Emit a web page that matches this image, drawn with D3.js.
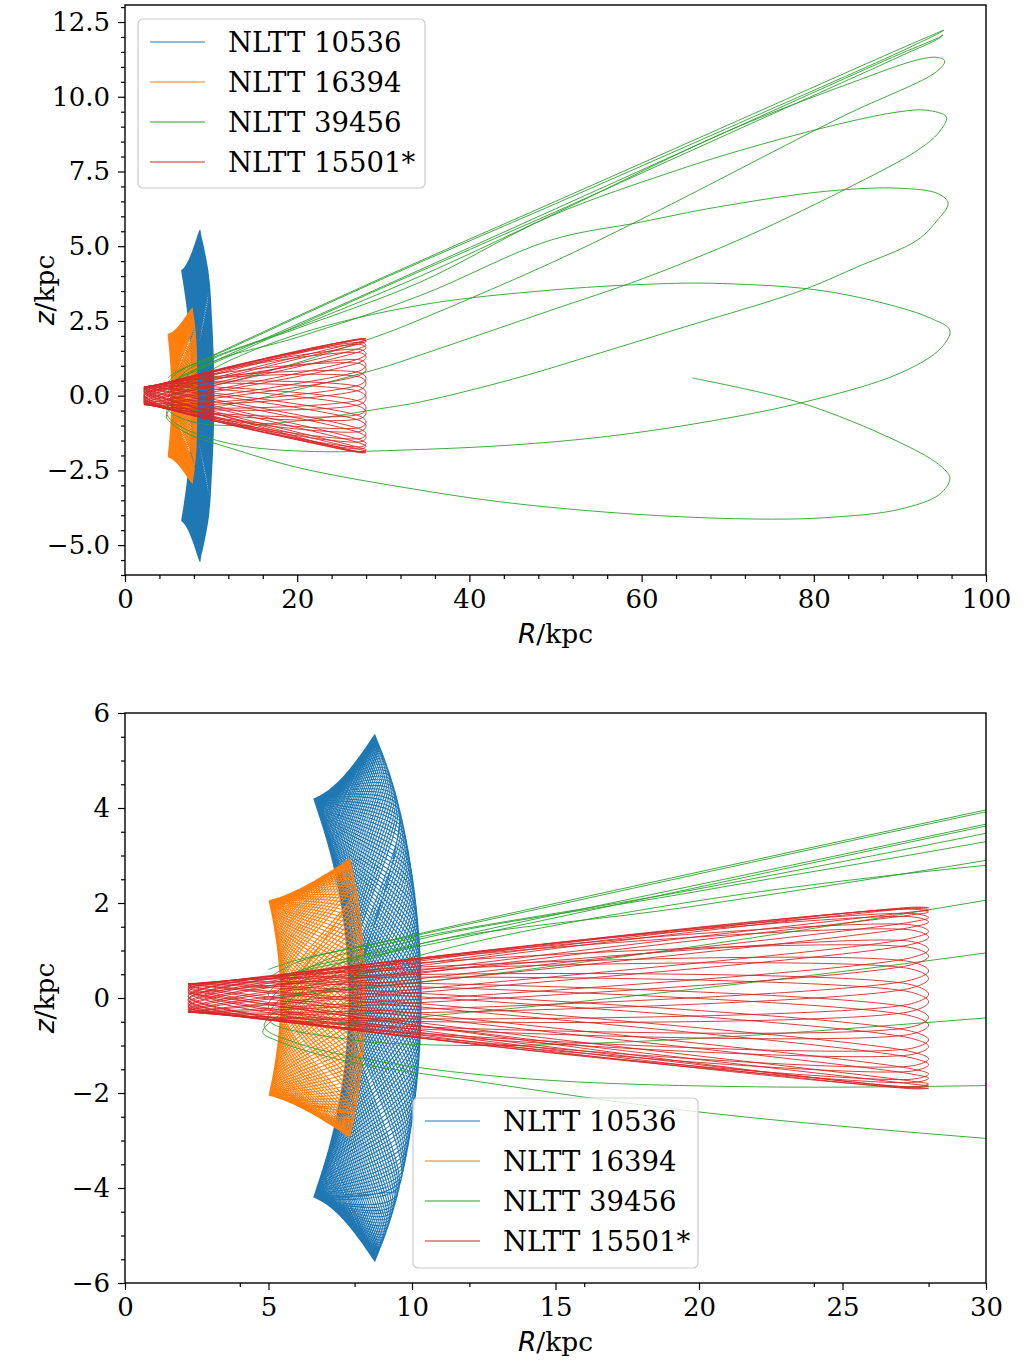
<!DOCTYPE html>
<html>
<head>
<meta charset="utf-8">
<script src="https://cdn.jsdelivr.net/npm/d3@7"></script>
<style>
body { margin: 0; background: #fff; }
text { font-family: "DejaVu Serif", serif; fill: #000; }
.tick text { font-family: "DejaVu Serif", serif !important; font-size: 26px !important; fill: #000; }
.mathit { font-family: "DejaVu Sans", sans-serif !important; font-style: italic; }
.upright { font-family: "DejaVu Serif", serif !important; }
</style>
</head>
<body>
<svg id="fig" width="1026" height="1360"></svg>
<script>

var names = ["NLTT 10536", "NLTT 16394", "NLTT 39456", "NLTT 15501*"];
var colors = ["#1f77b4", "#ff7f0e", "#2ca02c", "#d62728"];
var widths = [1.05, 1.05, 0.9, 0.9];

// NLTT 10536: radial turning points, alternating inner / outer radius, latitude in degrees
var blueRadii = [7.8, 10.32];
var blueTheta = [
  0.43, 23.87, 32.43, 20.78, -3.82, -26.04, -32.03, -18.06,
  7.17, 27.93, 31.28, 15.13, -10.45, -29.51, -30.19, -12.04,
  13.61, 30.78, 28.76, 8.82, -16.62, -31.70, -27.02, -5.50,
  19.45, 32.27, 24.99, 2.13, -22.06, -32.50, -22.68, 1.28,
  24.43, 32.36, 20.12, -4.66, -26.54, -31.88, -17.34, 8.00,
  28.36, 31.04, 14.37, -11.25, -29.86, -29.86, -11.25, 14.37,
  31.04, 28.36, 8.00, -17.34, -31.88, -26.54, -4.66, 20.12,
  32.36, 24.43, 1.28, -22.68, -32.50, -22.06, 2.13, 24.99,
  32.27, 19.45, -5.50, -27.02, -31.70, -16.62, 8.82, 28.76,
  30.78, 13.61, -12.04, -30.19, -29.51, -10.45, 15.13, 31.28,
  27.93, 7.17, -18.06, -32.03, -26.04, -3.82, 20.78, 32.43,
  23.87, 0.43, -23.28, -32.48, -21.43, 2.97, 25.52, 32.16,
  18.76, -6.34, -27.49, -31.50, -15.88, 9.64, 29.15, 30.49,
  12.83, -12.83, -30.49, -29.15, -9.64, 15.88, 31.50, 27.49,
  6.34, -18.76, -32.16, -25.52, -2.97, 21.43, 32.48, 23.28,
  -0.43, -23.87, -32.43, -20.78, 3.82, 26.04, 32.03, 18.06,
  -7.17, -27.93, -31.28, -15.13, 10.45, 29.51, 30.19, 12.04,
  -13.61, -30.78, -28.76, -8.82, 16.62, 31.70, 27.02, 5.50,
  -19.45, -32.27, -24.99, -2.13, 22.06, 32.50, 22.68, -1.28,
  -24.43, -32.36, -20.12, 4.66, 26.54, 31.88, 17.34, -8.00,
  -28.36, -31.04, -14.37, 11.25, 29.86, 29.86, 11.25, -14.37,
  -31.04, -28.36, -8.00, 17.34, 31.88, 26.54, 4.66, -20.12,
  -32.36, -24.43, -1.28, 22.68, 32.50, 22.06, -2.13, -24.99,
  -32.27, -19.45, 5.50, 27.02, 31.70, 16.62, -8.82, -28.76,
  -30.78, -13.61, 12.04, 30.19, 29.51, 10.45, -15.13, -31.28,
  -27.93, -7.17, 18.06, 32.03, 26.04, 3.82, -20.78, -32.43,
  -23.87, -0.43, 23.28, 32.48, 21.43, -2.97, -25.52, -32.16,
  -18.76, 6.34, 27.49, 31.50, 15.88, -9.64, -29.15, -30.49,
  -12.83, 12.83, 30.49, 29.15, 9.64, -15.88, -31.50, -27.49,
  -6.34, 18.76, 32.16, 25.52, 2.97, -21.43, -32.48, -23.28];

// NLTT 16394
var orangeRadii = [5.42, 8.36];
var orangeTheta = [
  0, 16.83, 20.81, 5.10, -14.51, -20.39, -10.69, 9.12, 21.96, 14.03,
  -4.62, -18.90, -18.74, -0.86, 17.68, 19.50, 6.42, -12.73, -22.16, -10.62,
  9.03, 20.14, 15.86, -3.42, -20.09, -17.75, -1.86, 15.80, 21.38, 6.74,
  -13.05, -20.50, -12.29, 7.55, 21.61, 15.23, -2.78, -18.17, -19.67, -2.57,
  16.50, 19.96, 8.17, -11.34, -22.20, -12.05, 7.30, 19.74, 17.11, -1.72,
  -19.23, -18.55, -3.70, 14.65, 21.81, 8.34, -11.50, -20.46, -13.79, 5.93,
  21.11, 16.33, -0.93, -17.31, -20.47, -4.26, 15.20, 20.28, 9.87, -9.88,
  -22.08, -13.40, 5.52, 19.21, 18.23, 0, -18.23, -19.21, -5.52, 13.40,
  22.08, 9.88, -9.87, -20.28, -15.20, 4.26, 20.47, 17.31, 0.93, -16.33,
  -21.11, -5.93, 13.79, 20.46, 11.50, -8.34, -21.81, -14.65, 3.70, 18.55,
  19.23, 1.72, -17.11, -19.74, -7.30, 12.05, 22.20, 11.34, -8.17, -19.96,
  -16.50, 2.57, 19.67, 18.17, 2.78, -15.23, -21.61, -7.55, 12.29, 20.50,
  13.05, -6.74, -21.38, -15.80, 1.86, 17.75, 20.09, 3.42, -15.86, -20.14,
  -9.03, 10.62, 22.16, 12.73, -6.42, -19.50, -17.68, 0.86, 18.74, 18.90,
  4.62, -14.03, -21.96, -9.12, 10.69, 20.39, 14.51, -5.10, -20.81, -16.83];

// NLTT 15501*: pericentre heights, and heights going into / at / out of each apocentre
var redPeriR = 2.2, redApoR = 28.0, redNearApoR = 27.4;
var redPeriZ = [0.10, -0.30, 0.05, 0.27, -0.19, -0.17, 0.28, 0.03, -0.30, 0.13,
  0.23, -0.25, -0.10, 0.30, -0.05, -0.27, 0.19, 0.17, -0.28, -0.03,
  0.30, -0.13, -0.23, 0.25, 0.10];
var redApoZ = [1.02, 1.28, -1.69, -0.41, 1.90, -0.57, -1.60, 1.40, 0.88, -1.85,
  0.08, 1.81, -1.02, -1.28, 1.69, 0.41, -1.90, 0.57, 1.60, -1.40,
  -0.88, 1.85, -0.08, -1.81];
var redApoInZ = [1.19, 1.13, -1.78, -0.21, 1.89, -0.76, -1.49, 1.54, 0.70, -1.89,
  0.28, 1.75, -1.19, -1.13, 1.78, 0.21, -1.89, 0.76, 1.49, -1.54,
  -0.70, 1.89, -0.28, -1.75];
var redApoOutZ = [0.85, 1.43, -1.60, -0.61, 1.91, -0.38, -1.71, 1.26, 1.06, -1.81,
  -0.12, 1.87, -0.85, -1.43, 1.60, 0.61, -1.91, 0.38, 1.71, -1.26,
  -1.06, 1.81, 0.12, -1.87];

// NLTT 39456: track points in order
var greenR = [65.9, 78.6, 89.5, 94.5, 95.8, 94.6, 90.0, 82.0, 74.1, 60.0, 45.0, 34.3, 20.3, 12.2, 7.5, 5.3, 4.8,
  5.4, 7.0, 10.0, 20.0, 34.3, 49.4, 60.0, 68.0, 80.0, 88.0, 93.5, 95.8,
  94.8, 90.0, 78.4, 66.0, 55.2, 45.0, 34.3, 22.0, 14.0, 9.0, 6.0, 4.85,
  5.5, 7.0, 10.0, 20.0, 34.3, 49.4, 59.8, 68.8, 81.5, 90.0, 94.5, 95.6,
  94.3, 92.0, 85.0, 79.6, 75.3, 65.0, 55.2, 45.0, 34.3, 30.0, 20.0, 12.0, 7.5, 5.0,
  5.6, 7.0, 10.0, 20.0, 34.3, 49.4, 64.1, 72.6, 83.4, 90.0, 93.1, 95.4,
  94.5, 92.0, 85.0, 72.0, 60.0, 49.4, 34.3, 30.0, 20.0, 12.0, 7.0, 5.0,
  5.6, 7.0, 10.0, 20.0, 34.3, 50.0, 70.0, 84.2, 92.0, 94.3, 95.2,
  94.3, 83.4, 61.0, 49.4, 34.3, 30.0, 20.0, 12.0, 7.0, 5.0,
  5.8, 10.0, 30.0, 50.0, 70.0, 90.0, 94.5, 95.0,
  94.5, 90.0, 70.0, 50.0, 30.0, 10.0, 6.0, 5.0,
  6.0, 10.0, 30.0, 50.0, 70.0, 90.0, 94.6, 95.1,
  94.6, 90.0, 70.0, 50.0, 30.0, 10.0, 6.0, 5.0];
var greenZ = [0.59, -0.25, -1.5, -2.3, -2.76, -3.3, -3.8, -4.07, -4.13, -3.98, -3.6, -3.16, -2.42, -1.75, -1.3, -0.9, -0.72,
  -0.35, 0.15, 0.85, 2.05, 3.03, 3.53, 3.72, 3.76, 3.55, 3.1, 2.6, 2.19,
  1.6, 0.75, -0.25, -0.95, -1.39, -1.65, -1.8, -1.87, -1.7, -1.35, -0.95, -0.6,
  -0.15, 0.4, 1.1, 1.95, 3.35, 5.2, 5.8, 6.31, 6.84, 6.94, 6.75, 6.44,
  5.85, 5.2, 4.3, 3.63, 3.2, 2.3, 1.43, 0.55, -0.21, -0.42, -0.85, -1.0, -0.85, -0.45,
  0.1, 0.6, 1.2, 2.25, 3.8, 6.0, 7.54, 8.3, 9.12, 9.5, 9.55, 9.32,
  8.8, 8.2, 7.1, 5.3, 3.9, 2.85, 1.36, 0.95, 0.2, -0.3, -0.5, -0.2,
  0.3, 0.8, 1.25, 2.3, 4.0, 6.1, 8.85, 10.45, 11.23, 11.32, 11.2,
  10.85, 9.35, 6.05, 4.43, 2.55, 2.06, 1.1, 0.45, 0.15, 0.05,
  0.5, 1.1, 3.66, 6.25, 8.85, 11.43, 11.98, 12.07,
  11.95, 11.35, 8.75, 6.15, 3.62, 1.05, 0.55, 0.4,
  0.75, 1.32, 3.96, 6.5, 9.05, 11.6, 12.17, 12.23,
  12.14, 11.5, 8.95, 6.42, 3.92, 1.3, 0.8, 0.6];

// ---- build tracks ----
function boxTrack(radii, theta) {
  return theta.map(function(t, i) {
    var p = d3.pointRadial((90 - t) * Math.PI / 180, radii[i % 2]);
    return [p[0], -p[1]];
  });
}
var redTrack = [];
redPeriZ.forEach(function(z, i) {
  redTrack.push([redPeriR, z]);
  if (i < redApoZ.length) {
    redTrack.push([redNearApoR, redApoInZ[i]]);
    redTrack.push([redApoR, redApoZ[i]]);
    redTrack.push([redNearApoR, redApoOutZ[i]]);
  }
});
var greenTrack = greenR.map(function(r, i) { return [r, greenZ[i]]; });

var tracks = [
  {c: 0, pts: boxTrack(blueRadii, blueTheta)},
  {c: 1, pts: boxTrack(orangeRadii, orangeTheta)},
  {c: 2, pts: greenTrack},
  {c: 3, pts: redTrack}
];

var svg = d3.select("#fig");

var panels = [
  {id: "a", left: 125, right: 986, top: 5, bottom: 575,
   xDomain: [0, 100], yDomain: [-6, 13.07],
   xTicks: d3.range(0, 101, 20), xMinor: d3.range(0, 101, 4).filter(function(d){ return d % 20; }),
   yTicks: d3.range(-2, 6).map(function(d){ return d * 2.5; }),
   yMinor: d3.range(-12, 27).map(function(d){ return d / 2; }).filter(function(d){ return Math.abs(d / 2.5 - Math.round(d / 2.5)) > 1e-6; }),
   yFmt: d3.format(".1f"),
   legend: {x: 138, y: 19, w: 287, h: 169}},
  {id: "b", left: 125, right: 986, top: 713, bottom: 1283,
   xDomain: [0, 30], yDomain: [-6, 6],
   xTicks: d3.range(0, 31, 5), xMinor: d3.range(0, 31, 4).filter(function(d){ return d % 5; }),
   yTicks: d3.range(-6, 7, 2),
   yMinor: d3.range(-12, 13).map(function(d){ return d / 2; }).filter(function(d){ return d % 2; }),
   yFmt: d3.format("d"),
   legend: {x: 413, y: 1098, w: 285, h: 170}}
];

panels.forEach(function(p) {
  var x = d3.scaleLinear().domain(p.xDomain).range([p.left, p.right]);
  var y = d3.scaleLinear().domain(p.yDomain).range([p.bottom, p.top]);
  var g = svg.append("g");

  g.append("clipPath").attr("id", "clip-" + p.id)
    .append("rect").attr("x", p.left).attr("y", p.top)
    .attr("width", p.right - p.left).attr("height", p.bottom - p.top);

  var line = d3.line()
    .x(function(d){ return x(d[0]); })
    .y(function(d){ return y(d[1]); })
    .curve(d3.curveCatmullRom.alpha(0.5));

  var plot = g.append("g").attr("clip-path", "url(#clip-" + p.id + ")");
  tracks.forEach(function(t) {
    plot.append("path")
      .attr("d", line(t.pts))
      .attr("fill", "none")
      .attr("stroke", colors[t.c])
      .attr("stroke-width", widths[t.c])
      .attr("stroke-linejoin", "round");
  });

  // axes
  var axes = g.append("g");
  axes.append("g").attr("transform", "translate(0," + p.bottom + ")")
    .call(d3.axisBottom(x).tickValues(p.xTicks).tickFormat(d3.format("d")).tickSize(7).tickPadding(8));
  axes.append("g").attr("transform", "translate(0," + p.bottom + ")")
    .call(d3.axisBottom(x).tickValues(p.xMinor).tickFormat("").tickSize(4));
  axes.append("g").attr("transform", "translate(" + p.left + ",0)")
    .call(d3.axisLeft(y).tickValues(p.yTicks).tickFormat(p.yFmt).tickSize(7).tickPadding(8));
  axes.append("g").attr("transform", "translate(" + p.left + ",0)")
    .call(d3.axisLeft(y).tickValues(p.yMinor).tickFormat("").tickSize(4));
  axes.selectAll("g").attr("font-family", null).attr("font-size", null);
  axes.selectAll(".domain").remove();
  axes.selectAll(".tick line").attr("stroke", "#000").attr("stroke-width", 1.2);

  g.append("rect")
    .attr("x", p.left).attr("y", p.top)
    .attr("width", p.right - p.left).attr("height", p.bottom - p.top)
    .attr("fill", "none").attr("stroke", "#000").attr("stroke-width", 1.4);

  // axis labels
  var xl = g.append("text")
    .attr("x", (p.left + p.right) / 2).attr("y", p.bottom + 68)
    .attr("text-anchor", "middle").style("font-size", "26.5px");
  xl.append("tspan").attr("class", "mathit").text("R");
  xl.append("tspan").attr("class", "upright").text("/kpc");
  var yl = g.append("text")
    .attr("transform", "translate(54," + ((p.top + p.bottom) / 2) + ") rotate(-90)")
    .attr("text-anchor", "middle").style("font-size", "26.5px");
  yl.append("tspan").attr("class", "mathit").text("z");
  yl.append("tspan").attr("class", "upright").text("/kpc");

  // legend
  var L = p.legend;
  var lg = g.append("g");
  lg.append("rect")
    .attr("x", L.x).attr("y", L.y).attr("width", L.w).attr("height", L.h)
    .attr("rx", 5).attr("fill", "#fff").attr("fill-opacity", 0.8)
    .attr("stroke", "#cccccc").attr("stroke-width", 1.2);
  names.forEach(function(n, i) {
    var cy = L.y + 23 + i * 40;
    lg.append("line")
      .attr("x1", L.x + 12).attr("x2", L.x + 67)
      .attr("y1", cy).attr("y2", cy)
      .attr("stroke", colors[i]).attr("stroke-width", 1.2);
    lg.append("text")
      .attr("x", L.x + 90).attr("y", cy + 10)
      .style("font-size", "27.5px").text(n);
  });
});

</script>
</body>
</html>
